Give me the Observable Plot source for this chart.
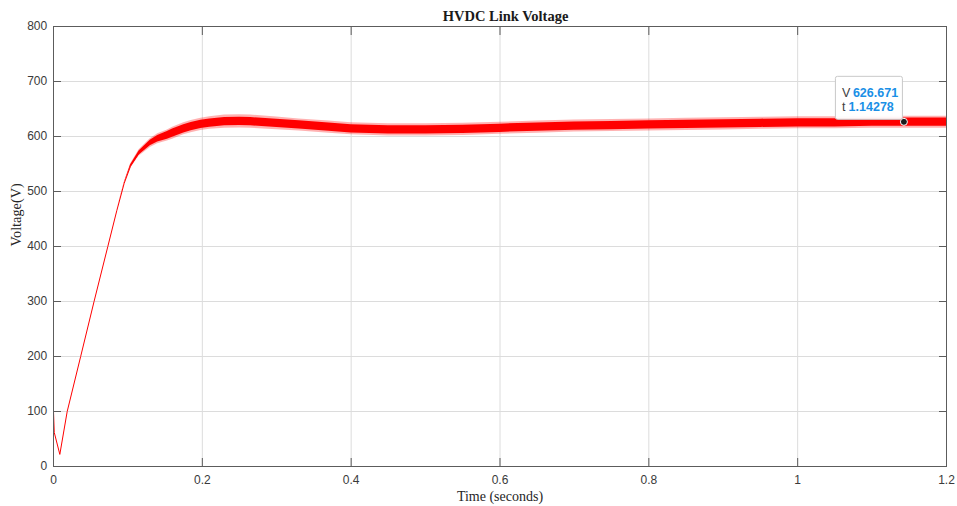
<!DOCTYPE html>
<html>
<head>
<meta charset="utf-8">
<script src="https://cdn.jsdelivr.net/npm/d3@7"></script>
<script src="https://cdn.jsdelivr.net/npm/@observablehq/plot@0.6"></script>
<style>
  body { margin: 0; background: #fff; }
  #chart { width: 957px; height: 506px; }
</style>
</head>
<body>
<div id="chart"></div>
<script>
// ---- data ----
const titleText = "HVDC Link Voltage";
const xLabel = "Time (seconds)";
const yLabel = "Voltage(V)";

const time = [0, 0.001, 0.0085, 0.0184, 0.0365, 0.0545, 0.073, 0.085, 0.095, 0.1035, 0.115,
  0.13, 0.14, 0.153, 0.16, 0.175, 0.185, 0.198, 0.21, 0.23, 0.25,
  0.265, 0.3, 0.33, 0.37, 0.4, 0.45, 0.5, 0.55, 0.6, 0.65,
  0.7, 0.75, 0.8, 0.85, 0.9, 0.95, 1.0, 1.05, 1.1, 1.15, 1.2];
const voltage = [100, 62, 22, 100, 200, 300, 400, 465, 515, 546, 570,
  588, 596, 602, 606, 614, 618, 622, 624.5, 627, 627.5,
  627, 624, 621, 617, 614, 612, 612, 613, 615, 617,
  619, 620, 621, 622, 623, 624, 625, 625, 626, 626, 626];
// half-width of the dense ripple band (V)
const rippleCore = [0, 0, 0, 0, 0, 0, 0, 0, 0.5, 2, 3.5,
  5, 6, 7, 7.5, 7.5, 7.5, 7.5, 7.5, 7.5, 7.5,
  7.5, 7.5, 7.5, 7.5, 7.5, 7.5, 7.5, 7.5, 7.5, 7.5,
  7.5, 7.5, 7.5, 7.5, 7.5, 7.5, 7.5, 7.5, 7.5, 7.5, 7.5];
// half-width of the sparse ripple spikes (V)
const rippleSpikes = [0, 0, 0, 0, 0, 0, 0, 0, 1.5, 4, 6,
  8, 9, 10, 11, 11, 11, 11, 11.5, 12, 12,
  12, 11.5, 11, 11, 11, 11, 11, 11, 11, 11,
  11, 11, 11, 11, 11, 11, 11, 11, 11, 11, 11];

const xTicks = [0, 0.2, 0.4, 0.6, 0.8, 1, 1.2];
const xTickLabels = ["0", "0.2", "0.4", "0.6", "0.8", "1", "1.2"];
const yTicks = [0, 100, 200, 300, 400, 500, 600, 700, 800];
const yTickLabels = ["0", "100", "200", "300", "400", "500", "600", "700", "800"];

const tipT = 1.14278;
const tipV = 626.671;
const tipTLabel = "1.14278";
const tipVLabel = "626.671";

// ---- build ----
const data = time.map((t, i) => ({
  t, v: voltage[i],
  lo: voltage[i] - rippleCore[i], hi: voltage[i] + rippleCore[i],
  lo2: voltage[i] - rippleSpikes[i], hi2: voltage[i] + rippleSpikes[i]
}));
const xFmt = new Map(xTicks.map((d, i) => [d, xTickLabels[i]]));
const yFmt = new Map(yTicks.map((d, i) => [d, yTickLabels[i]]));
const tip = [{t: tipT, v: tipV}];

const serif = "'Liberation Serif', 'Times New Roman', serif";
const sans = "'Liberation Sans', Arial, Helvetica, sans-serif";
const axisColor = "#5c5c5c";
const labelColor = "#3a3a3a";
const blue = "#1a8fe6";

function tipBox(index, scales) {
  const x = scales.x(tipT), y = scales.y(tipV);
  const g = d3.create("svg:g");
  g.append("rect")
    .attr("x", x - 68).attr("y", y - 45)
    .attr("width", 67).attr("height", 43)
    .attr("rx", 2)
    .attr("fill", "#ffffff").attr("fill-opacity", 0.95)
    .attr("stroke", "#c9c9c9").attr("stroke-width", 1);
  return g.node();
}

const chart = Plot.plot({
  width: 957,
  height: 506,
  marginLeft: 53,
  marginRight: 11,
  marginTop: 26,
  marginBottom: 40,
  style: {background: "#fff", fontFamily: sans, fontSize: "12px", color: labelColor},
  x: {domain: [0, 1.2]},
  y: {domain: [0, 800]},
  marks: [
    Plot.gridX({ticks: xTicks, stroke: "#dcdcdc", strokeOpacity: 1}),
    Plot.gridY({ticks: yTicks, stroke: "#dcdcdc", strokeOpacity: 1}),
    Plot.areaY(data, {x: "t", y1: "lo2", y2: "hi2", fill: "#ff0000", fillOpacity: 0.3}),
    Plot.areaY(data, {x: "t", y1: "lo", y2: "hi", fill: "#ff0000"}),
    Plot.line(data, {x: "t", y: "v", stroke: "#ff0000", strokeWidth: 1}),
    Plot.frame({stroke: axisColor}),
    // inward ticks: draw the standard outward tick, then shift it inside the frame
    Plot.axisX({anchor: "bottom", ticks: xTicks, tickSize: 8, dy: -8, tickPadding: 9,
      tickFormat: d => xFmt.get(d), label: null, stroke: axisColor, fill: labelColor, fontSize: 12}),
    Plot.axisX({anchor: "top", ticks: xTicks, tickSize: 8, dy: 8, tickFormat: () => "", label: null, stroke: axisColor}),
    Plot.axisY({anchor: "left", ticks: yTicks, tickSize: 8, dx: 8, tickPadding: 6.3,
      tickFormat: d => yFmt.get(d), label: null, stroke: axisColor, fill: labelColor, fontSize: 12}),
    Plot.axisY({anchor: "right", ticks: yTicks, tickSize: 8, dx: -8, tickFormat: () => "", label: null, stroke: axisColor}),
    Plot.text([titleText], {frameAnchor: "top", dx: 5.5, dy: -5.3, lineAnchor: "bottom",
      fontFamily: serif, fontWeight: "bold", fontSize: 14.5, fill: "#1a1a1a"}),
    Plot.text([yLabel], {frameAnchor: "left", dx: -37.5, rotate: -90,
      fontFamily: serif, fontSize: 14.3, fill: "#262626"}),
    Plot.text([xLabel], {frameAnchor: "bottom", dy: 34, lineAnchor: "bottom",
      fontFamily: serif, fontSize: 14, fill: "#262626"}),
    tipBox,
    Plot.dot(tip, {x: "t", y: "v", r: 3.5, fill: "#1c1c1c", stroke: "#ffffff", strokeWidth: 1}),
    Plot.text(tip, {x: "t", y: "v", text: () => "V", dx: -62, dy: -25, textAnchor: "start", lineAnchor: "bottom",
      fontFamily: sans, fontSize: 12.5, fill: "#404040"}),
    Plot.text(tip, {x: "t", y: "v", text: () => tipVLabel, dx: -51, dy: -25, textAnchor: "start", lineAnchor: "bottom",
      fontFamily: sans, fontSize: 12.5, fontWeight: "bold", fill: blue}),
    Plot.text(tip, {x: "t", y: "v", text: () => "t", dx: -62, dy: -11, textAnchor: "start", lineAnchor: "bottom",
      fontFamily: sans, fontSize: 12.5, fill: "#404040"}),
    Plot.text(tip, {x: "t", y: "v", text: () => tipTLabel, dx: -55.3, dy: -11, textAnchor: "start", lineAnchor: "bottom",
      fontFamily: sans, fontSize: 12.5, fontWeight: "bold", fill: blue})
  ]
});
document.getElementById("chart").appendChild(chart);
</script>
</body>
</html>
